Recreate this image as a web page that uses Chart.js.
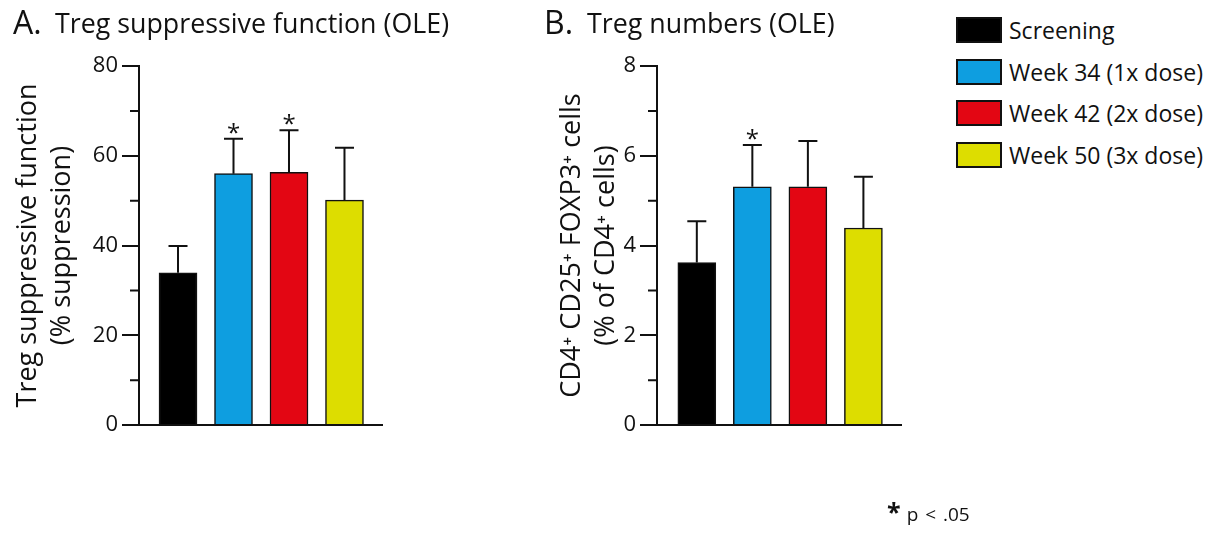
<!DOCTYPE html>
<html>
<head>
<meta charset="utf-8">
<script src="https://cdn.jsdelivr.net/npm/chart.js@4.4.1/dist/chart.umd.min.js"></script>
<style>
  body { margin: 0; background: #fff; font-family: "Open Sans", sans-serif; color: #111; }
  #page { position: relative; width: 1213px; height: 533px; overflow: hidden; }
  canvas { position: absolute; top: 0; }
  .t { position: absolute; white-space: nowrap; line-height: 1; }
  .big { font-size: 32px; }
  .sub { font-size: 26.8px; }
  #legend { position: absolute; left: 956px; top: 17px; }
  .item { display: flex; align-items: center; height: 26px; margin-bottom: 15.7px; }
  .box { width: 46px; height: 26px; box-sizing: border-box; border: 2px solid #111; }
  .lbl { margin-left: 7px; font-size: 23px; line-height: 26px; white-space: nowrap; }
  #note { position: absolute; left: 887px; top: 494px; white-space: nowrap; }
  #note b { font-size: 25px; font-weight: 700; }
  #note span { font-size: 19px; margin-left: 6px; word-spacing: 2px; }
</style>
</head>
<body>
<div id="page">
  <canvas id="chartA" width="540" height="533" style="left:0"></canvas>
  <canvas id="chartB" width="400" height="533" style="left:540px"></canvas>

  <div class="t big" style="left:13px; top:6px">A.</div>
  <div class="t sub" style="left:55px; top:10px">Treg suppressive function (OLE)</div>
  <div class="t big" style="left:544px; top:6px">B.</div>
  <div class="t sub" style="left:587px; top:10px">Treg numbers (OLE)</div>

  <div id="legend"></div>
  <div id="note"><b>*</b><span>p &lt; .05</span></div>
</div>
<script>
const categories = ['Screening', 'Week 34 (1x dose)', 'Week 42 (2x dose)', 'Week 50 (3x dose)'];
const barColors = ['#000000', '#0e9ee0', '#e30613', '#dddd00'];

// A. Treg suppressive function (% suppression)
const suppression = [33.9, 56.0, 56.3, 50.1];
const suppressionErr = [6.0, 7.8, 9.4, 11.7];
const suppressionSig = [false, true, true, false];
const ticksA = [0, 20, 40, 60, 80];
const minorA = [10, 30, 50, 70];

// B. Treg numbers (% of CD4+ cells)
const tregPct = [3.62, 5.31, 5.31, 4.39];
const tregPctErr = [0.92, 0.93, 1.02, 1.14];
const tregPctSig = [false, true, false, false];
const ticksB = [0, 2, 4, 6, 8];
const minorB = [1, 3, 5, 7];

// legend
const legend = document.getElementById('legend');
categories.forEach((c, i) => {
  legend.innerHTML += '<div class="item"><div class="box" style="background:' + barColors[i] +
    '"></div><div class="lbl">' + c + '</div></div>';
});

// error bars, significance stars and minor ticks
const extrasPlugin = {
  id: 'extras',
  afterDatasetsDraw(chart, args, opts) {
    const ctx = chart.ctx;
    const xs = chart.scales.x, ys = chart.scales.y;
    ctx.save();
    ctx.strokeStyle = '#111';
    ctx.lineWidth = 2;
    opts.values.forEach((v, i) => {
      const x = xs.getPixelForValue(i);
      const y0 = ys.getPixelForValue(v);
      const y1 = ys.getPixelForValue(v + opts.err[i]);
      ctx.beginPath();
      ctx.moveTo(x, y0);
      ctx.lineTo(x, y1);
      ctx.moveTo(x - 9.5, y1);
      ctx.lineTo(x + 9.5, y1);
      ctx.stroke();
      if (opts.sig[i]) {
        ctx.font = '24px "Open Sans"';
        ctx.fillStyle = '#111';
        ctx.textAlign = 'center';
        ctx.textBaseline = 'alphabetic';
        const m = ctx.measureText('*');
        ctx.fillText('*', x, y1 - 5 - m.actualBoundingBoxDescent);
      }
    });
    // minor ticks
    const left = chart.chartArea.left;
    ctx.beginPath();
    opts.minor.forEach(v => {
      const y = ys.getPixelForValue(v);
      ctx.moveTo(left - 9, y);
      ctx.lineTo(left, y);
    });
    ctx.stroke();
    ctx.restore();
  }
};

function makeChart(id, cfg) {
  return new Chart(document.getElementById(id), {
    type: 'bar',
    data: {
      datasets: [{
        data: cfg.values.map((v, i) => ({ x: i, y: v })),
        backgroundColor: barColors,
        borderColor: '#111',
        borderWidth: 1.5,
        barThickness: 38
      }]
    },
    options: {
      responsive: false,
      animation: false,
      layout: { padding: cfg.padding },
      scales: {
        x: {
          type: 'linear',
          offset: false,
          min: cfg.xMin,
          max: cfg.xMax,
          grid: { display: true, offset: false, drawOnChartArea: false, drawTicks: false },
          ticks: { display: false },
          border: { color: '#111', width: 2 }
        },
        y: {
          min: 0,
          max: cfg.ticks[cfg.ticks.length - 1],
          afterBuildTicks: s => { s.ticks = cfg.ticks.map(v => ({ value: v })); },
          afterFit: s => { s.width = cfg.axisWidth; },
          grid: { drawOnChartArea: false, tickLength: 17, color: '#111', lineWidth: 2 },
          border: { color: '#111', width: 2 },
          ticks: { padding: 4, color: '#111', font: { family: 'Open Sans', size: 22 } },
          title: {
            display: true,
            text: cfg.yTitle,
            color: '#111',
            padding: 0,
            font: { family: 'Open Sans', size: 27, lineHeight: 1.23 }
          }
        }
      },
      plugins: {
        legend: { display: false },
        tooltip: { enabled: false },
        extras: { values: cfg.values, err: cfg.err, sig: cfg.sig, minor: cfg.minor }
      }
    },
    plugins: [extrasPlugin]
  });
}

makeChart('chartA', {
  values: suppression, err: suppressionErr, sig: suppressionSig,
  ticks: ticksA, minor: minorA,
  yTitle: ['Treg suppressive function', '(% suppression)'],
  padding: { left: 12, right: 158, top: 66, bottom: 108 },
  axisWidth: 127,
  xMin: -0.703, xMax: 3.676
});

makeChart('chartB', {
  values: tregPct, err: tregPctErr, sig: tregPctSig,
  ticks: ticksB, minor: minorB,
  yTitle: ['CD4\u207A CD25\u207A FOXP3\u207A cells', '(% of CD4\u207A cells)'],
  padding: { left: 16, right: 39, top: 66, bottom: 108 },
  axisWidth: 101,
  xMin: -0.717, xMax: 3.677
});
</script>
</body>
</html>
